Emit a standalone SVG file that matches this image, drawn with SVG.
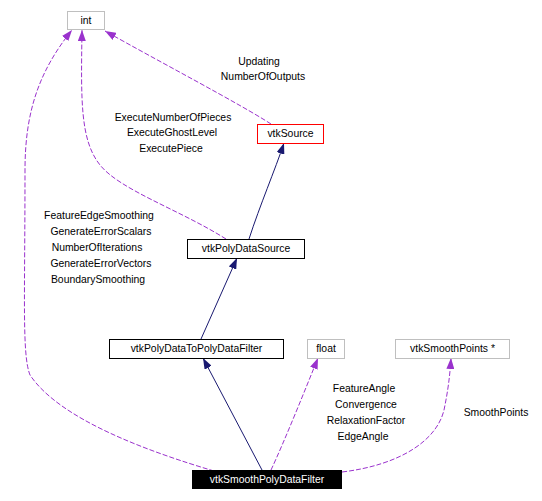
<svg xmlns="http://www.w3.org/2000/svg" width="542" height="501" viewBox="0 0 542 501">
<style>
text{font-family:"Liberation Sans",Arial,sans-serif;font-size:10.4px;fill:#000;text-anchor:middle}
.box{fill:#fff;stroke:#bfbfbf;stroke-width:1}
.cls{fill:#fff;stroke:#000;stroke-width:1}
.red{fill:#fff;stroke:#ff0000;stroke-width:1}
.inh{fill:none;stroke:#191970;stroke-width:1}
.use{fill:none;stroke:#9a32cd;stroke-width:1;stroke-dasharray:5,2}
</style>
<defs>
<marker id="an" viewBox="0 0 11 8" refX="11" refY="4" markerWidth="11" markerHeight="8" markerUnits="userSpaceOnUse" orient="auto"><path d="M0,0 L11,4 L0,8 z" fill="#191970"/></marker>
<marker id="ap" viewBox="0 0 11 8" refX="11" refY="4" markerWidth="11" markerHeight="8" markerUnits="userSpaceOnUse" orient="auto"><path d="M0,0 L11,4 L0,8 z" fill="#9a32cd"/></marker>
</defs>
<rect width="542" height="501" fill="#fff"/>
<g id="edges">
<path class="use" d="M271,124 C240,104 160,62 105,31" marker-end="url(#ap)"/>
<path class="use" d="M226,239 C180,210 120,190 100,165 C80,140 81,100 82,30" marker-end="url(#ap)"/>
<path class="use" d="M214,471 C150,452 60,420 30,375 C22,355 25,300 25,170 C25,110 40,70 72,30" marker-end="url(#ap)"/>
<path class="inh" d="M249,239 C260,205 275,170 284,143" marker-end="url(#an)"/>
<path class="inh" d="M201,339 L237,258" marker-end="url(#an)"/>
<path class="inh" d="M262,470 L203,358" marker-end="url(#an)"/>
<path class="use" d="M271,470 C285,440 305,390 318,358" marker-end="url(#ap)"/>
<path class="use" d="M342,472 C400,465 440,440 445,405 C448,390 450,375 451,358" marker-end="url(#ap)"/>
<text x="259" y="65">Updating</text>
<text x="263" y="80">NumberOfOutputs</text>
<text x="173" y="121">ExecuteNumberOfPieces</text>
<text x="172" y="136">ExecuteGhostLevel</text>
<text x="171" y="152">ExecutePiece</text>
<text x="99" y="219">FeatureEdgeSmoothing</text>
<text x="101" y="235">GenerateErrorScalars</text>
<text x="97" y="251">NumberOfIterations</text>
<text x="101" y="267">GenerateErrorVectors</text>
<text x="98" y="283">BoundarySmoothing</text>
<text x="364" y="392">FeatureAngle</text>
<text x="366" y="408">Convergence</text>
<text x="366" y="424">RelaxationFactor</text>
<text x="363" y="440">EdgeAngle</text>
<text x="496" y="416">SmoothPoints</text>
</g>
<g id="int"><rect class="box" x="67.5" y="11.5" width="37" height="18"/><text x="86" y="24">int</text></g>
<g id="vtkSource"><rect class="red" x="257.5" y="124.5" width="66" height="19"/><text x="290.5" y="137">vtkSource</text></g>
<g id="vtkPolyDataSource"><rect class="cls" x="187.5" y="239.5" width="117" height="19"/><text x="246" y="252">vtkPolyDataSource</text></g>
<g id="vtkPolyDataToPolyDataFilter"><rect class="cls" x="109.5" y="339.5" width="174" height="19"/><text x="196.5" y="352">vtkPolyDataToPolyDataFilter</text></g>
<g id="float"><rect class="box" x="307.5" y="339.5" width="37" height="19"/><text x="326" y="352">float</text></g>
<g id="vtkSmoothPoints"><rect class="box" x="395.5" y="339.5" width="114" height="19"/><text x="452.5" y="352">vtkSmoothPoints *</text></g>
<g id="vtkSmoothPolyDataFilter"><rect x="192" y="470" width="150" height="19" fill="#000"/><text x="267" y="483" style="fill:#fff">vtkSmoothPolyDataFilter</text></g>
</svg>
